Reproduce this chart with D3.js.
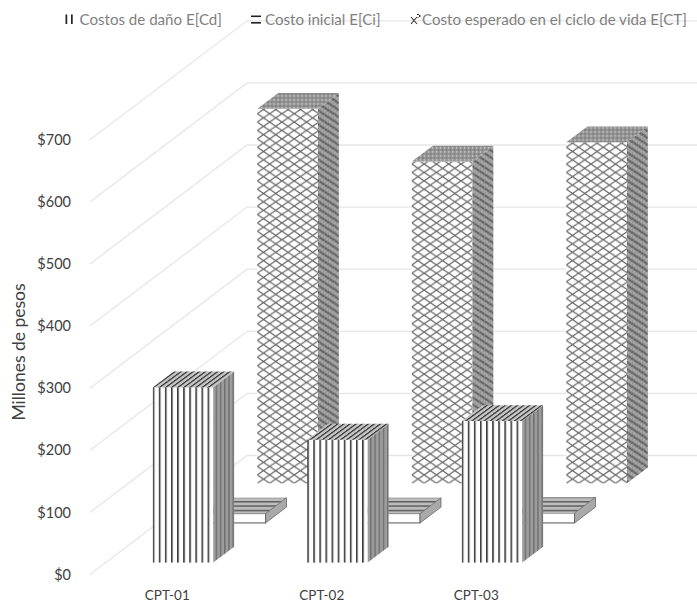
<!DOCTYPE html>
<html>
<head>
<meta charset="utf-8">
<script src="https://cdnjs.cloudflare.com/ajax/libs/d3/7.8.5/d3.min.js"></script>
<style>
  html, body { margin: 0; padding: 0; background: #fff; }
  svg { display: block; }
  text { font-family: Lato, "Open Sans", sans-serif; }
</style>
</head>
<body>
<script>
const categories = ["CPT-01", "CPT-02", "CPT-03"];
const seriesNames = ["Costos de daño E[Cd]", "Costo inicial E[Ci]", "Costo esperado en el ciclo de vida E[CT]"];
const costosDano = [282, 198, 228];
const costoInicial = [15, 15, 16];
const costoEsperado = [603, 518, 549];
const yTicks = [0, 100, 200, 300, 400, 500, 600, 700];

const width = 697, height = 605;
const seriesValues = [costosDano, costoInicial, costoEsperado];
const seriesKeys = ["cd", "ci", "ct"];

const svg = d3.select("body").append("svg")
  .attr("width", width)
  .attr("height", height);

const x = d3.scaleBand().domain(categories).range([90, 553.5]).paddingInner(0).paddingOuter(0);
const y = d3.scaleLinear().domain([0, 700]).range([574.5, 139.8]);

// depth of the 3d box: 0 is the front edge of the floor, 1 is the back wall
const depth = d3.scaleBand().domain(seriesKeys).range([0, 1]);
const depthX = d3.scaleLinear().domain([0, 1]).range([0, 157]);
const depthY = d3.scaleLinear().domain([0, 1]).range([0, -119]);
const boxDepth = depth.bandwidth() * 0.4;
const barWidth = x.bandwidth() * 0.392;

// hatch patterns, one set per series
const defs = svg.append("defs");

function pattern(id, w, h, transform, base, draw) {
  const p = defs.append("pattern")
    .attr("id", id)
    .attr("patternUnits", "userSpaceOnUse")
    .attr("width", w)
    .attr("height", h);
  if (transform) p.attr("patternTransform", transform);
  p.append("rect").attr("width", w).attr("height", h).attr("fill", base);
  draw(p);
}

const skewTop = "skewX(-53.6)";
const skewSide = "skewY(-36.5)";
const step = 6.1;

pattern("cd-front", step, 10, null, "#fff", p => {
  p.append("rect").attr("width", 1.6).attr("height", 10).attr("fill", "#3a3a3a");
  p.append("rect").attr("x", 1.6).attr("width", 0.5).attr("height", 10).attr("fill", "#bbb");
});
pattern("cd-top", step, 10, skewTop, "#c4c4c4", p => {
  p.append("rect").attr("width", 2.2).attr("height", 10).attr("fill", "#3f3f3f");
});
pattern("cd-side", 4.2, 10, null, "#9c9c9c", p => {
  p.append("rect").attr("width", 1.4).attr("height", 10).attr("fill", "#707070");
});

pattern("ci-top", 10, 4.4, null, "#bcbcbc", p => {
  p.append("rect").attr("width", 10).attr("height", 1.5).attr("fill", "#5c5c5c");
});

function lattice(p, w, h, color, sw) {
  p.append("path")
    .attr("d", `M0,0L${w},${h}M${w},0L0,${h}`)
    .attr("stroke", color)
    .attr("stroke-width", sw)
    .attr("fill", "none");
}
pattern("ct-front", 12.3, 8.4, null, "#fff", p => lattice(p, 12.3, 8.4, "#666", 1.25));
pattern("ct-top", 4, 4, null, "#949494", p => {
  p.append("rect").attr("width", 1.4).attr("height", 1.4).attr("fill", "#d0d0d0");
  p.append("rect").attr("x", 2).attr("y", 2).attr("width", 1.4).attr("height", 1.4).attr("fill", "#707070");
});
pattern("ct-side", 5, 7, skewSide, "#a8a8a8", p => {
  p.append("path").attr("d", "M0,0L5,7").attr("stroke", "#5c5c5c").attr("stroke-width", 1.5);
  p.append("path").attr("d", "M5,0L0,7").attr("stroke", "#8a8a8a").attr("stroke-width", 1);
});

pattern("ct-swatch", 4, 4, null, "#fff", p => lattice(p, 4, 4, "#333", 1));

// walls
const grid = svg.append("g").attr("fill", "none").attr("stroke", "#e6e6e6").attr("stroke-width", 1.3);
grid.selectAll("path")
  .data(yTicks)
  .join("path")
  .attr("d", d => {
    const backX = 90 + depthX(1), backY = y(d) + depthY(1);
    return `M90,${y(d)}L${backX},${backY}L${x.range()[1] + depthX(1)},${backY}`;
  });

// axes
const yAxis = svg.append("g")
  .attr("transform", "translate(78,0)")
  .call(d3.axisLeft(y).tickValues(yTicks).tickSize(0).tickPadding(7).tickFormat(d3.format("$")));
yAxis.select(".domain").remove();
yAxis.selectAll("text").attr("font-size", 14.5).attr("fill", "#404040").style("font-family", "Lato");

const xAxis = svg.append("g")
  .attr("transform", "translate(0,585)")
  .call(d3.axisBottom(x).tickSize(0).tickPadding(5));
xAxis.select(".domain").remove();
xAxis.selectAll("text").attr("font-size", 13.5).attr("fill", "#404040").style("font-family", "Lato");

svg.append("text")
  .attr("transform", "translate(25,352) rotate(-90)")
  .attr("text-anchor", "middle")
  .attr("font-size", 17.5)
  .attr("fill", "#404040")
  .text("Millones de pesos");

// boxes, back series first so the front ones cover them
const rows = [];
[2, 1, 0].forEach(s => {
  categories.forEach((c, i) => {
    rows.push({ key: seriesKeys[s], cat: c, value: seriesValues[s][i] });
  });
});

const boxes = svg.append("g").selectAll("g")
  .data(rows)
  .join("g")
  .attr("transform", d => {
    const front = depth(d.key) + (depth.bandwidth() - boxDepth) / 2;
    const left = x(d.cat) + (x.bandwidth() - barWidth) / 2 + depthX(front);
    return `translate(${left},${y(0) + depthY(front)})`;
  });

const h = d => y(0) - y(d.value);
const dx = depthX(boxDepth), dy = depthY(boxDepth);

// faces in local coordinates, so each hatch starts at the left edge of the bar
boxes.append("rect")
  .attr("y", d => -h(d))
  .attr("width", barWidth)
  .attr("height", d => h(d))
  .attr("fill", d => d.key === "ci" ? "#fff" : `url(#${d.key}-front)`)
  .attr("stroke", d => d.key === "ci" ? "#555" : "none")
  .attr("stroke-width", 1);

boxes.append("path")
  .attr("d", d => `M0,${-h(d)}L${dx},${-h(d) + dy}L${barWidth + dx},${-h(d) + dy}L${barWidth},${-h(d)}Z`)
  .attr("fill", d => `url(#${d.key}-top)`);

boxes.append("path")
  .attr("d", d => `M${barWidth},0L${barWidth + dx},${dy}L${barWidth + dx},${-h(d) + dy}L${barWidth},${-h(d)}Z`)
  .attr("fill", d => d.key === "ci" ? "#a9a9a9" : `url(#${d.key}-side)`)
  .attr("stroke", d => d.key === "ci" ? "#666" : "none")
  .attr("stroke-width", 0.8);

// legend
const legendX = [79.5, 265, 422];
const legend = svg.append("g").selectAll("text")
  .data(seriesNames)
  .join("text")
  .attr("x", (d, i) => legendX[i])
  .attr("y", 24.5)
  .attr("font-size", 15.1)
  .attr("fill", "#7f7f7f")
  .text(d => d);

const marks = svg.append("g").attr("fill", "#222");
marks.append("rect").attr("x", 65.5).attr("y", 14.5).attr("width", 1.7).attr("height", 9.5);
marks.append("rect").attr("x", 71).attr("y", 14.5).attr("width", 1.7).attr("height", 9.5);
marks.append("rect").attr("x", 251).attr("y", 15.5).attr("width", 10).attr("height", 1.6);
marks.append("rect").attr("x", 251).attr("y", 22).attr("width", 10).attr("height", 1.6);
marks.append("path")
  .attr("d", "M411,17L417,24M411,24L417,17")
  .attr("stroke", "#333")
  .attr("stroke-width", 1.1);
marks.append("rect").attr("x", 417).attr("y", 14).attr("width", 3.5).attr("height", 3.5).attr("fill", "url(#ct-swatch)");
</script>
</body>
</html>
